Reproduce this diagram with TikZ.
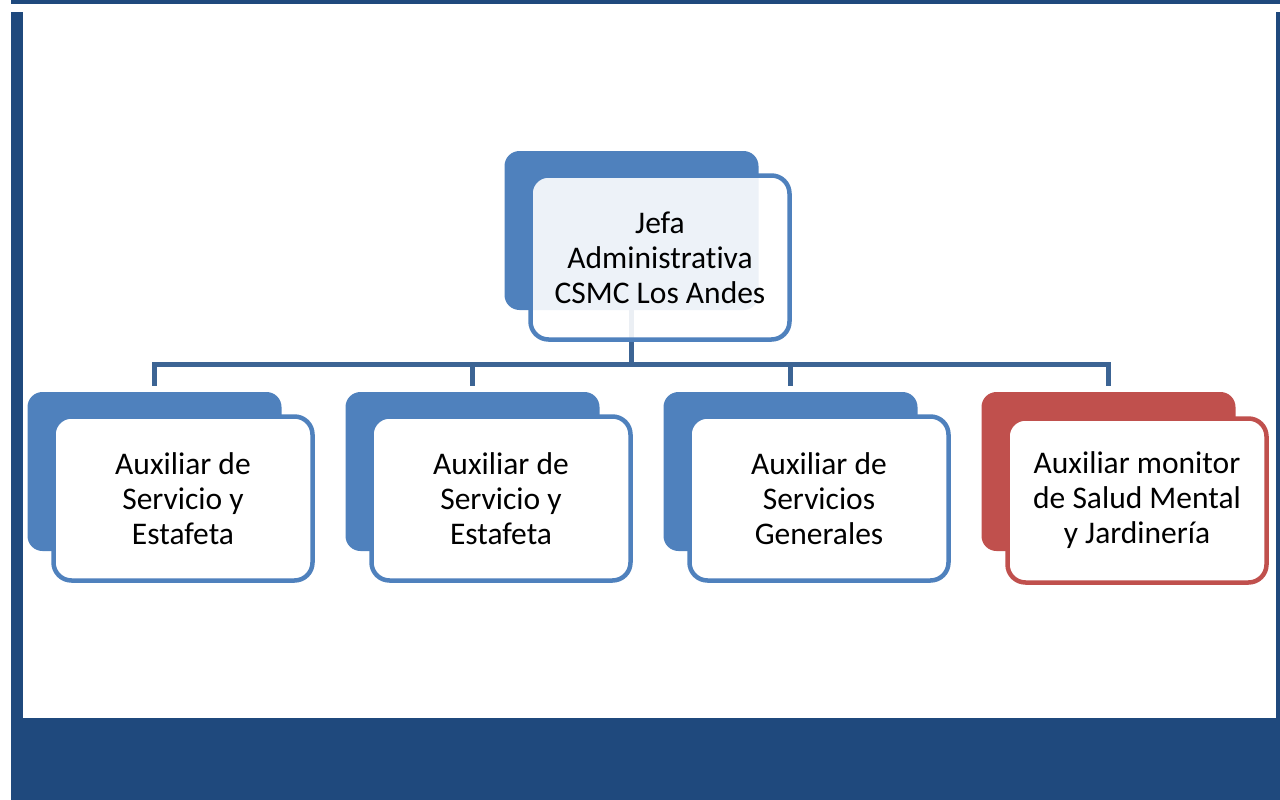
\documentclass[tikz,border=0pt]{standalone}
\usepackage{fontspec}
\setmainfont[Ligatures={NoCommon}]{Carlito}
\definecolor{accblue}{HTML}{4F81BD}
\definecolor{accred}{HTML}{C0504D}
\definecolor{framecol}{HTML}{1F497D}
\definecolor{conncol}{HTML}{3C6494}
\tikzset{
  backbox/.style={rectangle, rounded corners=15pt, fill=#1, minimum width=254pt, minimum height=159pt, inner sep=0pt},
  frontbox/.style={rectangle, rounded corners=18pt, draw=#1, line width=4.5pt, fill=white, minimum width=259pt, minimum height=164pt, inner sep=0pt, align=center, font=\fontsize{31.5}{35}\selectfont},
  conn/.style={draw=conncol, line width=5pt},
}
\begin{document}
\begin{tikzpicture}[x=1pt,y=-1pt]
\useasboundingbox (0,0) rectangle (1280,800);
% frame
\fill[framecol] (11,0) rectangle (1280,4);
\fill[framecol] (11,12) rectangle (23,800);
\fill[framecol] (1276,12) rectangle (1280,800);
\fill[framecol] (11,718) rectangle (1280,800);
% back boxes
\node[backbox=accblue] (b0) at (631.5,230.5) {};
\node[backbox=accblue] (b1) at (154.5,471.5) {};
\node[backbox=accblue] (b2) at (472.5,471.5) {};
\node[backbox=accblue] (b3) at (790.5,471.5) {};
\node[backbox=accred]  (b4) at (1108.5,471.5) {};
% connectors
\coordinate (bus) at (632,364.5);
\draw[conn] (b0.south) -- (b0.south |- bus);
\draw[conn] ([yshift=6pt]b1.north) -- (b1.north |- bus) -- (b4.north |- bus) -- ([yshift=6pt]b4.north);
\draw[conn] (b2.north |- bus) -- ([yshift=6pt]b2.north);
\draw[conn] (b3.north |- bus) -- ([yshift=6pt]b3.north);
% front boxes
\node[frontbox=accblue, fill opacity=0.9, text opacity=1] (f0) at (660,257.5) {Jefa\\Administrativa\\CSMC Los Andes};
\node[frontbox=accblue] (f1) at (183,498.5) {Auxiliar de\\Servicio y\\Estafeta};
\node[frontbox=accblue] (f2) at (501,498.5) {Auxiliar de\\Servicio y\\Estafeta};
\node[frontbox=accblue] (f3) at (819,498.5) {Auxiliar de\\Servicios\\Generales};
\node[frontbox=accred]  (f4) at (1137,500.5) {Auxiliar monitor\\de Salud Mental\\y Jardinería};
\end{tikzpicture}
\end{document}
